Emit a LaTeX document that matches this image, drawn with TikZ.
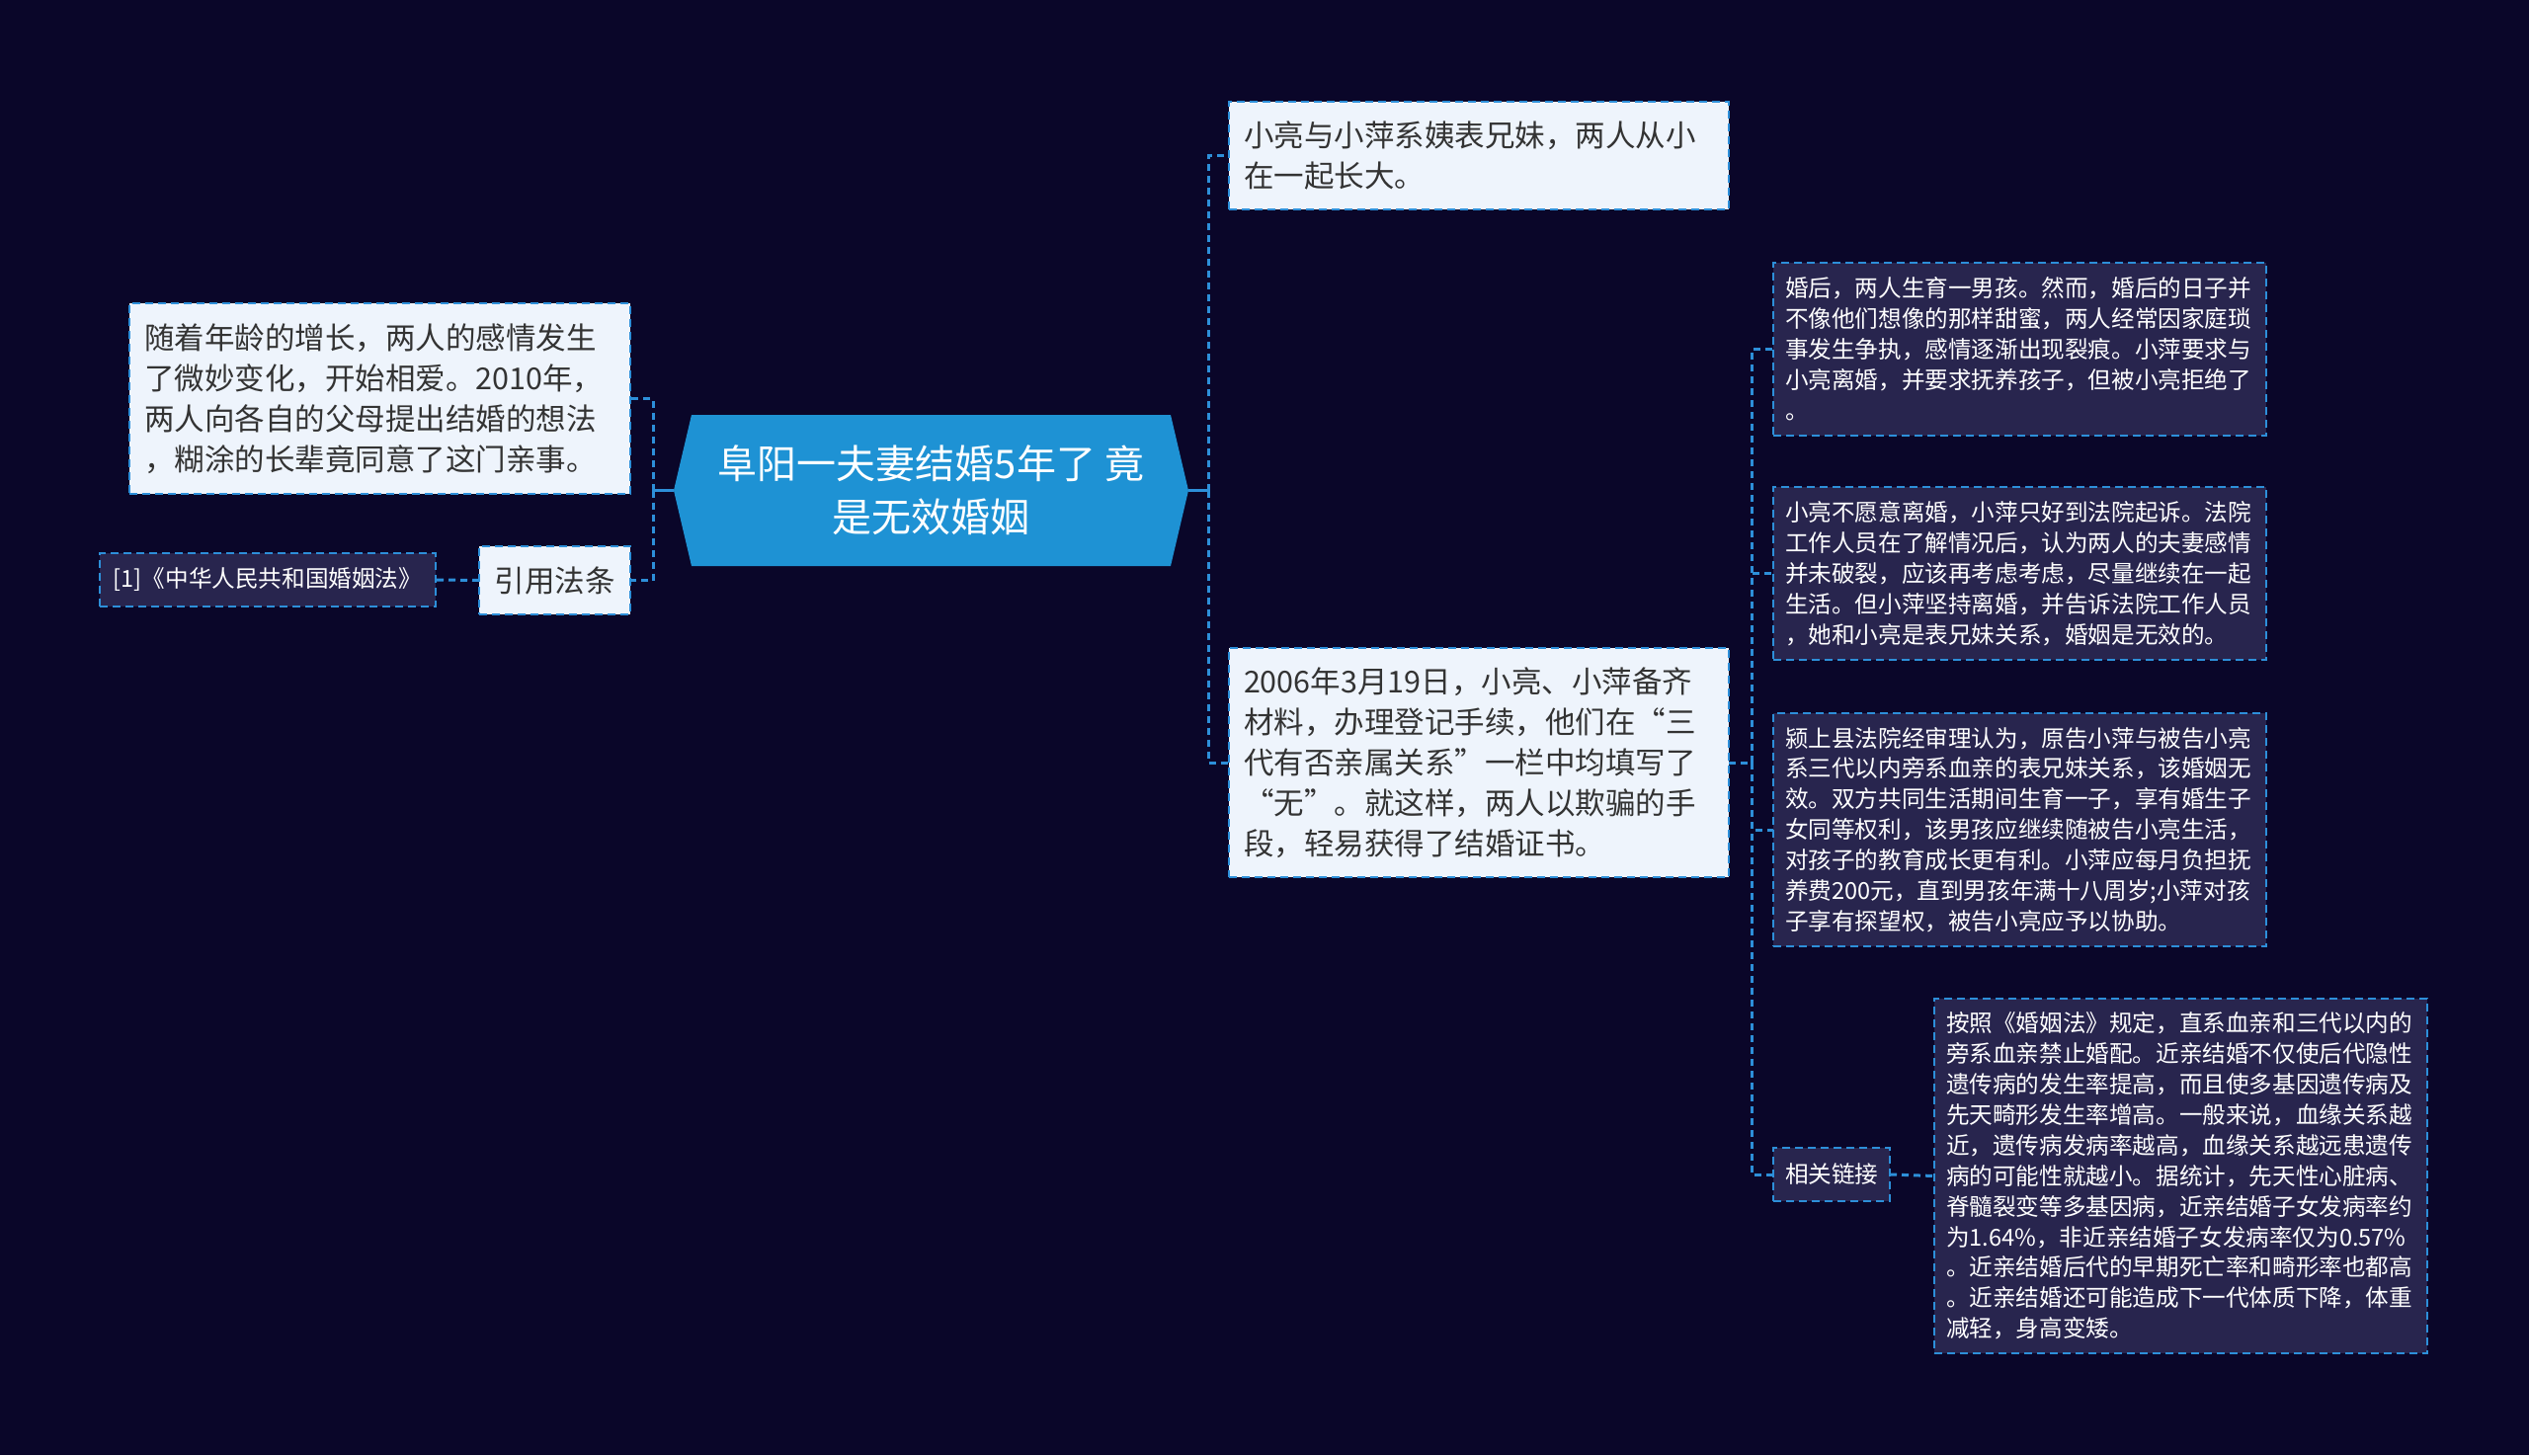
\documentclass[tikz,border=0pt]{standalone}
\usepackage{fontspec}
\setmainfont{Noto Sans CJK SC}
\usetikzlibrary{backgrounds}
\definecolor{bgc}{HTML}{0A0629}
\definecolor{linec}{HTML}{2D8FD9}
\definecolor{lightfill}{HTML}{EEF4FC}
\definecolor{darkfill}{HTML}{28254E}
\definecolor{darktext}{HTML}{333333}
\definecolor{rootfill}{HTML}{1E92D4}
\tikzset{
  conn/.style={draw=linec, line width=3pt, dash pattern=on 7pt off 5pt},
  stub/.style={draw=linec, line width=3pt},
  boxbase/.style={draw=linec, line width=2.2pt, dash pattern=on 8pt off 5pt,
    anchor=north west, align=left, inner ysep=0pt, outer sep=0pt},
  lightbig/.style={boxbase, fill=lightfill, text=darktext, inner xsep=15pt,
    font=\fontsize{30.5}{41}\selectfont},
  darksmall/.style={boxbase, fill=darkfill, text=white, inner xsep=12pt,
    font=\fontsize{23.6}{30.9}\selectfont},
  rootnode/.style={text=white, align=center, inner sep=0pt, outer sep=0pt,
    minimum width=521pt, minimum height=153pt,
    font=\fontsize{40}{54}\selectfont},
}
\begin{document}
\begin{tikzpicture}[x=1pt,y=-1pt]
\useasboundingbox (0,0) rectangle (2560,1473);
\begin{scope}[on background layer]
  \fill[bgc] (0,0) rectangle (2560,1473);
\end{scope}

% root
\node[rootnode] (root) at (942.5,496.5) {阜阳一夫妻结婚5年了 竟\\是无效婚姻};
\begin{scope}[on background layer]
  \fill[rootfill] (root.west) -- ([xshift=18pt]root.north west) -- ([xshift=-18pt]root.north east)
    -- (root.east) -- ([xshift=-18pt]root.south east) -- ([xshift=18pt]root.south west) -- cycle;
\end{scope}

% left side
\node[lightbig, minimum width=507pt, minimum height=193pt, text width=477pt] (n1) at (131,307)
 {随着年龄的增长，两人的感情发生\\了微妙变化，开始相爱。2010年，\\两人向各自的父母提出结婚的想法\\，糊涂的长辈竟同意了这门亲事。};
\node[lightbig, minimum width=153pt, minimum height=69pt, text width=123pt, align=center] (law) at (485,553) {引用法条};
\node[darksmall, minimum width=340pt, minimum height=54pt, text width=316pt, align=center] (ref) at (101,560) {[1]《中华人民共和国婚姻法》};

% right side
\node[lightbig, minimum width=506pt, minimum height=109pt, text width=476pt] (na) at (1244,103)
 {小亮与小萍系姨表兄妹，两人从小\\在一起长大。};
\node[lightbig, minimum width=506pt, minimum height=232pt, text width=476pt] (nb) at (1244,656)
 {2006年3月19日，小亮、小萍备齐\\材料，办理登记手续，他们在“三\\代有否亲属关系”一栏中均填写了\\“无”。就这样，两人以欺骗的手\\段，轻易获得了结婚证书。};

\node[darksmall, minimum width=499pt, minimum height=175pt, text width=475pt] (c1) at (1795,266)
 {婚后，两人生育一男孩。然而，婚后的日子并\\不像他们想像的那样甜蜜，两人经常因家庭琐\\事发生争执，感情逐渐出现裂痕。小萍要求与\\小亮离婚，并要求抚养孩子，但被小亮拒绝了\\。};
\node[darksmall, minimum width=499pt, minimum height=175pt, text width=475pt] (c2) at (1795,493)
 {小亮不愿意离婚，小萍只好到法院起诉。法院\\工作人员在了解情况后，认为两人的夫妻感情\\并未破裂，应该再考虑考虑，尽量继续在一起\\生活。但小萍坚持离婚，并告诉法院工作人员\\，她和小亮是表兄妹关系，婚姻是无效的。};
\node[darksmall, minimum width=499pt, minimum height=236pt, text width=475pt] (c3) at (1795,722)
 {颍上县法院经审理认为，原告小萍与被告小亮\\系三代以内旁系血亲的表兄妹关系，该婚姻无\\效。双方共同生活期间生育一子，享有婚生子\\女同等权利，该男孩应继续随被告小亮生活，\\对孩子的教育成长更有利。小萍应每月负担抚\\养费200元，直到男孩年满十八周岁;小萍对孩\\子享有探望权，被告小亮应予以协助。};
\node[darksmall, minimum width=118pt, minimum height=54pt, text width=94pt, align=center] (c4) at (1795,1162) {相关链接};
\node[darksmall, minimum width=499pt, minimum height=359pt, text width=475pt] (c5) at (1958,1011)
 {按照《婚姻法》规定，直系血亲和三代以内的\\旁系血亲禁止婚配。近亲结婚不仅使后代隐性\\遗传病的发生率提高，而且使多基因遗传病及\\先天畸形发生率增高。一般来说，血缘关系越\\近，遗传病发病率越高，血缘关系越远患遗传\\病的可能性就越小。据统计，先天性心脏病、\\脊髓裂变等多基因病，近亲结婚子女发病率约\\为1.64\%，非近亲结婚子女发病率仅为0.57\%\\。近亲结婚后代的早期死亡率和畸形率也都高\\。近亲结婚还可能造成下一代体质下降，体重\\减轻，身高变矮。};

% connectors
\coordinate (lt) at (661,496.5);
\coordinate (rt) at (1223,496.5);
\coordinate (bt) at (1773,772);
\draw[stub] (root.west) -- (lt);
\draw[stub] (root.east) -- (rt);
\draw[conn] (lt) |- (n1.east);
\draw[conn] (lt) |- (law.east);
\draw[conn] (law.west) -- (ref.east);
\draw[conn] (rt) |- (na.west);
\draw[conn] (rt) |- (nb.west);
\draw[conn] (nb.east) -- (bt);
\draw[conn] (bt) |- (c1.west);
\draw[conn] (bt) |- (c2.west);
\draw[conn] (bt) |- (c3.west);
\draw[conn] (bt) |- (c4.west);
\draw[conn] (c4.east) -- (c5.west);
\end{tikzpicture}
\end{document}
